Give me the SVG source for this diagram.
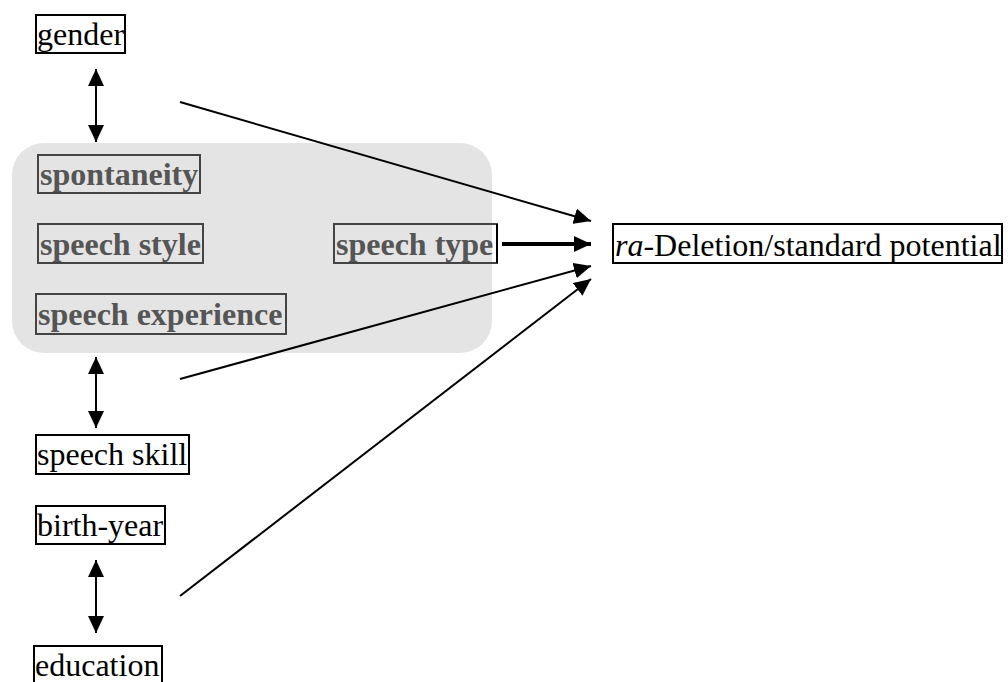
<svg xmlns="http://www.w3.org/2000/svg" width="1008" height="682" viewBox="0 0 1008 682">
  <style>
    .box { fill: none; stroke: #000; stroke-width: 2; }
    .gbox { fill: none; stroke: #444; stroke-width: 2; }
    .lbl { font-family: "Liberation Serif", "Times New Roman", serif; font-size: 32px; fill: #000; }
    .glbl { font-family: "Liberation Serif", "Times New Roman", serif; font-size: 32px; font-weight: bold; fill: #555; }
    .edge { stroke: #000; stroke-width: 2; fill: none; }
    .edge.thick { stroke-width: 4; }
  </style>
  <defs>
    <marker id="head" markerUnits="userSpaceOnUse" markerWidth="18" markerHeight="16" refX="17" refY="8" orient="auto-start-reverse">
      <path d="M0,0 L17,8 L0,16 Z" fill="#000"/>
    </marker>
  </defs>

  <!-- shaded group of speech-related factors -->
  <rect id="speech-group" x="12" y="143" width="480" height="210" rx="32" ry="32" fill="#e4e4e4"/>

  <g id="connectors">
    <line class="edge" x1="96" y1="69" x2="96" y2="142" marker-start="url(#head)" marker-end="url(#head)"/>
    <line class="edge" x1="96" y1="357" x2="96" y2="428" marker-start="url(#head)" marker-end="url(#head)"/>
    <line class="edge" x1="96" y1="560" x2="96" y2="633" marker-start="url(#head)" marker-end="url(#head)"/>
    <line class="edge" x1="180" y1="102" x2="591" y2="221" marker-end="url(#head)"/>
    <line class="edge thick" x1="502" y1="244" x2="591" y2="244" marker-end="url(#head)"/>
    <line class="edge" x1="180" y1="379" x2="591" y2="266" marker-end="url(#head)"/>
    <line class="edge" x1="180" y1="596" x2="591" y2="279" marker-end="url(#head)"/>
  </g>

  <g id="gender">
    <rect class="box" x="36" y="15" width="89" height="38"/>
    <text class="lbl" x="37" y="45">gender</text>
  </g>

  <g id="spontaneity">
    <rect class="gbox" x="38" y="155" width="162" height="38"/>
    <text class="glbl" x="40" y="185">spontaneity</text>
  </g>

  <g id="speech-style">
    <rect class="gbox" x="38" y="224" width="165" height="39"/>
    <text class="glbl" x="40" y="255">speech style</text>
  </g>

  <g id="speech-experience">
    <rect class="gbox" x="36" y="294" width="250" height="40"/>
    <text class="glbl" x="38" y="325">speech experience</text>
  </g>

  <g id="speech-type">
    <rect class="gbox" x="334" y="224" width="163" height="39"/>
    <line x1="497" y1="224" x2="497" y2="263" stroke="#000" stroke-width="2"/>
    <text class="glbl" x="336" y="255">speech type</text>
  </g>

  <g id="ra-deletion">
    <rect class="box" x="613" y="224" width="389" height="39"/>
    <text class="lbl" x="615" y="256"><tspan font-style="italic">ra</tspan>-Deletion/standard potential</text>
  </g>

  <g id="speech-skill">
    <rect class="box" x="36" y="435" width="153" height="39"/>
    <text class="lbl" x="37" y="465">speech skill</text>
  </g>

  <g id="birth-year">
    <rect class="box" x="36" y="506" width="129" height="38"/>
    <text class="lbl" x="37" y="536">birth-year</text>
  </g>

  <g id="education">
    <rect class="box" x="34" y="646" width="128" height="40"/>
    <text class="lbl" x="35" y="676">education</text>
  </g>
</svg>
